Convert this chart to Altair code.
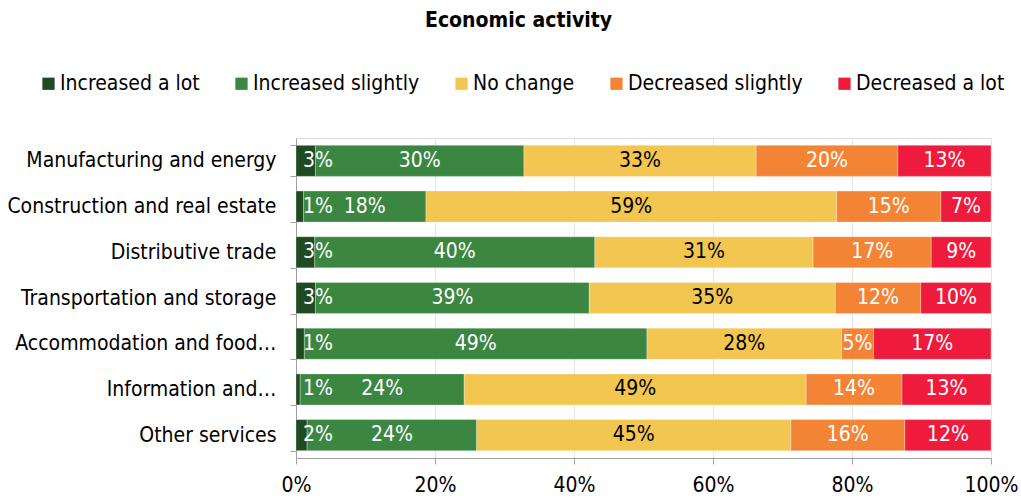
import altair as alt
import pandas as pd

categories = [
    "Manufacturing and energy",
    "Construction and real estate",
    "Distributive trade",
    "Transportation and storage",
    "Accommodation and food…",
    "Information and…",
    "Other services",
]
series = ["Increased a lot", "Increased slightly", "No change", "Decreased slightly", "Decreased a lot"]
colors = ["#1f4a22", "#3b8640", "#f2c651", "#f48435", "#ee1b3d"]

increased_a_lot = [2.8, 1.1, 2.7, 2.8, 1.2, 0.6, 1.6]
increased_slightly = [30.0, 17.6, 40.3, 39.4, 49.3, 23.6, 24.4]
no_change = [33.4, 59.1, 31.4, 35.4, 28.0, 49.2, 45.2]
decreased_slightly = [20.4, 15.0, 17.0, 12.3, 4.6, 13.8, 16.4]
decreased_a_lot = [13.4, 7.2, 8.6, 10.1, 16.9, 12.8, 12.4]
x_ticks = [0, 0.2, 0.4, 0.6, 0.8, 1.0]

FONT = "DejaVu Sans Condensed, DejaVu Sans"
FS = 21

values_by_series = [increased_a_lot, increased_slightly, no_change, decreased_slightly, decreased_a_lot]
rows = []
for si, (s, vals) in enumerate(zip(series, values_by_series)):
    for c, v in zip(categories, vals):
        rows.append({"category": c, "series": s, "order": si, "value": v, "label": f"{v:.0f}%"})
df = pd.DataFrame(rows)

xscale = alt.Scale(domain=[0, 1])
yenc = alt.Y(
    "category:N",
    sort=categories,
    scale=alt.Scale(paddingInner=0.32, paddingOuter=0.16),
    axis=alt.Axis(
        title=None, labelFontSize=FS, labelColor="black", labelFont=FONT,
        tickBand="extent", tickSize=6, tickColor="#a0a0a0", domainColor="#a0a0a0",
        labelPadding=14, labelLimit=400,
    ),
)

base = alt.Chart(df)

bars = base.mark_bar(stroke="white", strokeWidth=0.6, strokeOpacity=0.5).encode(
    y=yenc,
    x=alt.X(
        "value:Q", stack="normalize", scale=xscale,
        axis=alt.Axis(
            title=None, values=x_ticks, format=".0%", labelFontSize=FS, labelColor="black",
            labelFont=FONT, grid=True, gridColor="#e4e4e4", tickSize=6, tickColor="#a0a0a0",
            domainColor="#a0a0a0", labelPadding=10, labelFlush=False,
        ),
    ),
    color=alt.Color(
        "series:N", sort=series, scale=alt.Scale(domain=series, range=colors),
        legend=alt.Legend(
            title=None, orient="none", direction="horizontal", legendX=-258, legendY=-65,
            symbolType="square", symbolSize=150, symbolStrokeWidth=0, labelFontSize=FS,
            labelFont=FONT, labelColor="black", columnPadding=31, labelOffset=1, labelLimit=300,
        ),
    ),
    order=alt.Order("order:Q"),
)

stacked = base.transform_stack(
    stack="value", groupby=["category"], as_=["x0", "x1"], offset="normalize",
    sort=[alt.SortField("order")],
).transform_calculate(mid="(datum.x0 + datum.x1) / 2")

text_color = alt.condition(alt.datum.series == "No change", alt.value("black"), alt.value("white"))

labels_mid = stacked.transform_filter(alt.datum.order > 0).mark_text(
    fontSize=FS, font=FONT, align="center", baseline="middle"
).encode(
    y=yenc, x=alt.X("mid:Q", scale=xscale), text="label:N", color=text_color,
)

labels_first = stacked.transform_filter(alt.datum.order == 0).mark_text(
    fontSize=FS, font=FONT, align="left", baseline="middle", dx=7
).encode(
    y=yenc, x=alt.X("x0:Q", scale=xscale), text="label:N", color=alt.value("white"),
)

chart = alt.layer(bars, labels_mid, labels_first).properties(
    width=695,
    height=320,
    autosize=alt.AutoSizeParams(type="none"),
    padding={"left": 296, "top": 138, "right": 30, "bottom": 42},
    title=alt.TitleParams(
        "Economic activity", fontSize=FS, fontWeight="bold", font=FONT, color="black",
        anchor="middle", frame="group", dx=-125, dy=-38,
    ),
).configure_view(stroke=None).configure(background="white")

chart.save("out.html", embed_options={"renderer": "svg", "actions": False})
